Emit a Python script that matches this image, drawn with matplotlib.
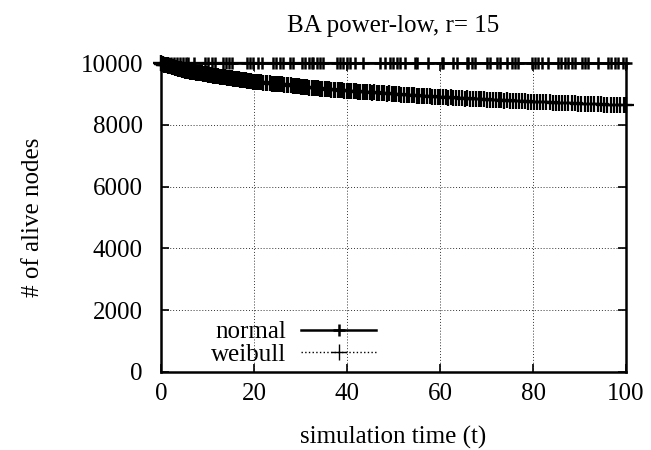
import matplotlib
matplotlib.use('Agg')
import matplotlib.pyplot as plt

# data
normal_t = [0.0, 0.2, 0.9, 1.5, 2.2, 2.8, 3.4, 4.1, 4.7, 5.4,
            5.8, 7.1, 9.5, 10.1, 11.0, 11.6, 13.3, 14.0, 14.6, 15.3,
            18.5, 19.1, 19.8, 20.9, 21.7, 24.1, 24.7, 25.6, 26.2, 27.7,
            28.4, 30.3, 31.0, 31.8, 32.5, 32.7, 33.5, 34.2, 34.8, 37.8,
            38.5, 39.1, 40.0, 40.6, 41.7, 43.4, 47.1, 48.2, 49.2, 49.9,
            50.8, 51.4, 52.5, 54.6, 55.1, 57.4, 60.4, 60.6, 62.8, 63.7,
            65.8, 66.0, 66.9, 67.5, 70.1, 70.8, 72.3, 72.9, 74.4, 75.5,
            76.1, 76.8, 79.8, 80.4, 81.1, 81.9, 83.2, 85.4, 86.0, 86.9,
            87.5, 88.4, 89.0, 90.5, 91.2, 91.8, 94.0, 96.1, 96.8, 97.6,
            98.3, 99.4, 100.0]
normal_n = [10000, 9999, 9999, 9999, 9999, 9998, 9998, 9998, 9998, 9998,
            9998, 9997, 9997, 9997, 9997, 9997, 9997, 9996, 9996, 9996,
            9996, 9996, 9996, 9996, 9995, 9995, 9995, 9995, 9995, 9995,
            9995, 9995, 9994, 9994, 9994, 9994, 9994, 9994, 9994, 9994,
            9994, 9993, 9993, 9993, 9993, 9993, 9993, 9993, 9993, 9993,
            9993, 9992, 9992, 9992, 9992, 9992, 9992, 9992, 9992, 9992,
            9992, 9991, 9991, 9991, 9991, 9991, 9991, 9991, 9991, 9991,
            9991, 9991, 9990, 9990, 9990, 9990, 9990, 9990, 9990, 9990,
            9990, 9990, 9990, 9989, 9989, 9989, 9989, 9989, 9989, 9989,
            9989, 9989, 9989]

weibull_t = [0.0, 0.1, 0.2, 0.3, 0.4, 0.5, 0.6, 0.7, 0.9, 1.0,
             1.2, 1.4, 1.5, 1.7, 1.9, 2.0, 2.2, 2.4, 2.6, 2.8,
             3.0, 3.2, 3.5, 3.7, 3.9, 4.2, 4.4, 4.6, 4.9, 5.1,
             5.4, 5.7, 5.9, 6.2, 6.5, 6.8, 7.0, 7.3, 7.6, 7.9,
             8.2, 8.5, 8.8, 9.1, 9.4, 9.8, 10.1, 10.4, 10.8, 11.1,
             11.5, 11.9, 12.2, 12.6, 13.0, 13.3, 13.7, 14.1, 14.4, 14.8,
             15.2, 15.5, 15.9, 16.3, 16.7, 17.0, 17.4, 17.8, 18.2, 18.6,
             19.0, 19.4, 19.8, 20.2, 20.7, 21.1, 21.6, 22.0, 22.5, 22.9,
             23.4, 23.8, 24.3, 24.7, 25.2, 25.6, 26.1, 26.5, 27.0, 27.4,
             27.9, 28.3, 28.8, 29.2, 29.7, 30.1, 30.6, 31.0, 31.5, 31.9,
             32.4, 32.9, 33.3, 33.8, 34.3, 34.7, 35.2, 35.7, 36.1, 36.6,
             37.1, 37.5, 38.0, 38.5, 39.0, 39.4, 39.9, 40.4, 40.9, 41.4,
             41.9, 42.4, 42.9, 43.4, 43.9, 44.4, 44.9, 45.4, 45.9, 46.4,
             46.9, 47.5, 48.0, 48.5, 49.0, 49.6, 50.1, 50.6, 51.2, 51.7,
             52.2, 52.8, 53.3, 53.9, 54.4, 55.0, 55.5, 56.1, 56.6, 57.2,
             57.8, 58.3, 58.9, 59.5, 60.0, 60.6, 61.2, 61.8, 62.3, 62.9,
             63.5, 64.1, 64.7, 65.3, 65.9, 66.5, 67.1, 67.7, 68.3, 68.9,
             69.5, 70.1, 70.7, 71.3, 72.0, 72.6, 73.2, 73.8, 74.5, 75.1,
             75.7, 76.4, 77.0, 77.7, 78.3, 79.0, 79.6, 80.3, 80.9, 81.6,
             82.2, 82.9, 83.6, 84.2, 84.9, 85.6, 86.3, 86.9, 87.6, 88.3,
             89.0, 89.7, 90.4, 91.1, 91.8, 92.5, 93.2, 93.9, 94.6, 95.3,
             96.0, 96.7, 97.4, 98.1, 98.8, 99.5, 100.0]
weibull_n = [10000, 9990, 9978, 9972, 9960, 9958, 9947, 9944, 9934, 9938,
             9926, 9920, 9912, 9908, 9898, 9893, 9888, 9876, 9871, 9858,
             9852, 9838, 9830, 9816, 9812, 9796, 9790, 9776, 9768, 9755,
             9750, 9738, 9738, 9722, 9718, 9705, 9709, 9694, 9690, 9678,
             9676, 9662, 9664, 9648, 9645, 9630, 9626, 9612, 9607, 9592,
             9588, 9572, 9570, 9556, 9552, 9538, 9536, 9522, 9520, 9505,
             9502, 9488, 9486, 9472, 9470, 9456, 9452, 9438, 9436, 9420,
             9418, 9404, 9400, 9388, 9385, 9372, 9374, 9362, 9364, 9352,
             9348, 9336, 9334, 9322, 9320, 9306, 9306, 9292, 9290, 9278,
             9274, 9262, 9258, 9246, 9244, 9230, 9228, 9216, 9214, 9202,
             9200, 9190, 9186, 9178, 9174, 9162, 9162, 9150, 9150, 9138,
             9136, 9126, 9126, 9114, 9116, 9104, 9108, 9096, 9098, 9086,
             9086, 9074, 9076, 9064, 9066, 9054, 9056, 9044, 9046, 9034,
             9036, 9022, 9024, 9012, 9014, 9000, 9002, 8990, 8990, 8978,
             8980, 8966, 8968, 8956, 8958, 8944, 8946, 8934, 8936, 8924,
             8926, 8914, 8914, 8902, 8904, 8892, 8894, 8882, 8884, 8872,
             8874, 8862, 8862, 8850, 8852, 8840, 8842, 8830, 8832, 8820,
             8822, 8810, 8812, 8802, 8804, 8794, 8796, 8786, 8788, 8776,
             8778, 8768, 8770, 8760, 8762, 8750, 8752, 8740, 8742, 8732,
             8734, 8724, 8726, 8714, 8716, 8706, 8708, 8698, 8700, 8690,
             8692, 8682, 8684, 8674, 8676, 8666, 8668, 8658, 8660, 8650,
             8652, 8644, 8646, 8636, 8638, 8630, 8632]

x_ticks = [0, 20, 40, 60, 80, 100]
y_ticks = [0, 2000, 4000, 6000, 8000, 10000]

plt.rcParams['font.family'] = ['Liberation Serif', 'DejaVu Serif']

fig = plt.figure(figsize=(6.51, 4.5), dpi=100)
ax = fig.add_axes([161 / 651, 1 - 372 / 450, 465 / 651, 309 / 450])

ax.plot(weibull_t, weibull_n, color='black', linestyle=':', linewidth=1.0,
        marker='+', markersize=11, markeredgewidth=1.6, label='weibull',
        clip_on=False, zorder=3)
ax.plot(normal_t, normal_n, color='black', linestyle='-', linewidth=1.8,
        marker='+', markersize=9, markeredgewidth=1.8, label='normal',
        clip_on=False, zorder=4)

ax.set_xlim(0, 100)
ax.set_ylim(0, 10000)
ax.set_xticks(x_ticks)
ax.set_yticks(y_ticks)
ax.tick_params(direction='in', top=True, right=True, length=6, width=1.2,
               labelsize=18)
ax.tick_params(axis='x', pad=8)
ax.tick_params(axis='y', pad=13)
ax.grid(True, color='#333333', linestyle=(0, (1, 2)), linewidth=0.7)
for s in ax.spines.values():
    s.set_linewidth(1.8)

ax.set_title('BA power-low, r= 15', fontsize=18, pad=22)
ax.set_xlabel('simulation time (t)', fontsize=18, labelpad=15)
ax.set_ylabel('# of alive nodes', fontsize=18, labelpad=26)

handles, labels = ax.get_legend_handles_labels()
leg = ax.legend(handles[::-1], labels[::-1], loc='lower right',
                bbox_to_anchor=(376 / 651, 1 - 366 / 450),
                bbox_transform=fig.transFigure, frameon=False,
                markerfirst=False, fontsize=18, handlelength=3.0,
                labelspacing=0.0, borderpad=0.0, borderaxespad=0.0,
                handletextpad=0.6)
# thinner marker in the legend sample, as in the reference
leg.legend_handles[1].set_markeredgewidth(1.0)

fig.savefig('out.png', dpi=100)
